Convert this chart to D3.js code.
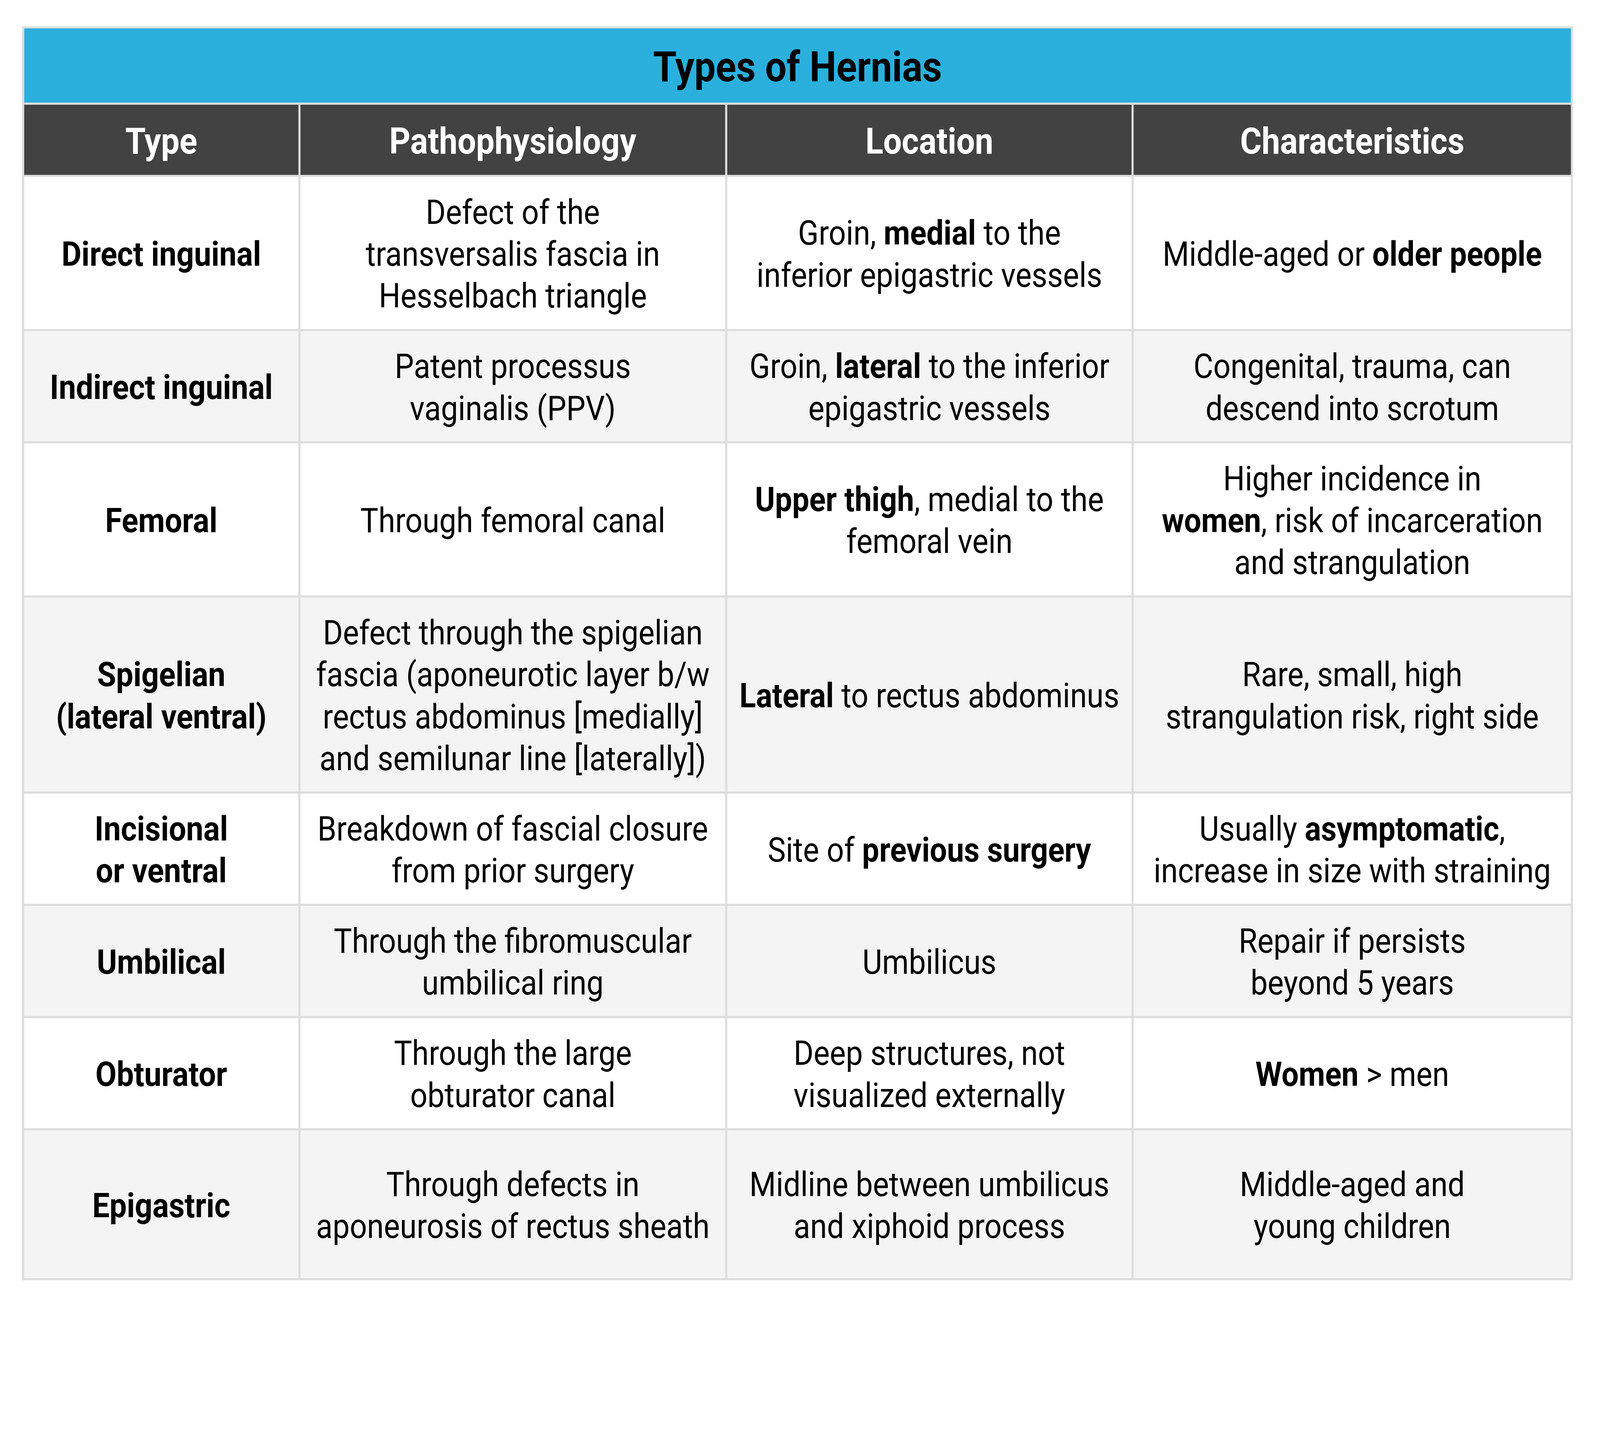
<!DOCTYPE html>
<html>
<head>
<meta charset="utf-8">
<script src="https://cdn.jsdelivr.net/npm/d3@7/dist/d3.min.js"></script>
<style>
  html, body { margin: 0; padding: 0; background: #fff; overflow: hidden; }
  svg { display: block; }
</style>
</head>
<body>
<div class="canvas"></div>
<script>
// table content (\n = line break, **x** = bold)
const title = 'Types of Hernias';
const headers = ['Type', 'Pathophysiology', 'Location', 'Characteristics'];

const types = [
  'Direct inguinal',
  'Indirect inguinal',
  'Femoral',
  'Spigelian\n(lateral ventral)',
  'Incisional\nor ventral',
  'Umbilical',
  'Obturator',
  'Epigastric'
];

const pathophysiology = [
  'Defect of the\ntransversalis fascia in\nHesselbach triangle',
  'Patent processus\nvaginalis (PPV)',
  'Through femoral canal',
  'Defect through the spigelian\nfascia (aponeurotic layer b/w\nrectus abdominus [medially]\nand semilunar line [laterally])',
  'Breakdown of fascial closure\nfrom prior surgery',
  'Through the fibromuscular\numbilical ring',
  'Through the large\nobturator canal',
  'Through defects in\naponeurosis of rectus sheath'
];

const locations = [
  'Groin, **medial** to the\ninferior epigastric vessels',
  'Groin, **lateral** to the inferior\nepigastric vessels',
  '**Upper thigh**, medial to the\nfemoral vein',
  '**Lateral** to rectus abdominus',
  'Site of **previous surgery**',
  'Umbilicus',
  'Deep structures, not\nvisualized externally',
  'Midline between umbilicus\nand xiphoid process'
];

const characteristics = [
  'Middle-aged or **older people**',
  'Congenital, trauma, can\ndescend into scrotum',
  'Higher incidence in\n**women**, risk of incarceration\nand strangulation',
  'Rare, small, high\nstrangulation risk, right side',
  'Usually **asymptomatic**,\nincrease in size with straining',
  'Repair if persists\nbeyond 5 years',
  '**Women** > men',
  'Middle-aged and\nyoung children'
];

// layout
const dims = {width: 4563, height: 3721};
const colEdges = [66, 854, 2071, 3230, 4483];
const titleTop = 78, titleBottom = 295.5, headBottom = 501.5, tableBottom = 3647;
const lineH = 119.5, pad = 40.5;
const fs = {title: 120, head: 104, body: 97};
const grid = '#dddddd';

// viewBox so the whole drawing fits whatever the css viewport is, pinned to the top
const svg = d3.select('.canvas')
  .append('svg')
    .attr('viewBox', `0 0 ${dims.width} ${dims.height}`)
    .attr('preserveAspectRatio', 'xMidYMin meet')
    .style('width', '100vw')
    .style('height', '100vh')
    .style('font-family', 'Roboto');

// Roboto stands in for Roboto Condensed: squeeze it horizontally
const measure = (str, size, weight) => {
  const t = svg.append('text')
    .attr('font-size', size).attr('font-weight', weight).text(str);
  const w = t.node().getComputedTextLength();
  t.remove();
  return w;
};
const squeezeReg = 837 / measure('descend into scrotum', fs.body, 400);
const squeezeBold = 569 / measure('Direct inguinal', fs.body, 700);

const rows = types.map((t, i) => [
  '**' + t.split('\n').join('**\n**') + '**',
  pathophysiology[i], locations[i], characteristics[i]
]);

const rowLines = rows.map(r => d3.max(r, c => c.split('\n').length));
const rowHeights = rowLines.map(n => n * lineH + 2 * pad);
rowHeights[rowHeights.length - 1] = tableBottom - headBottom - d3.sum(rowHeights.slice(0, -1));
const rowEdges = [headBottom, ...d3.cumsum(rowHeights).map(v => v + headBottom)];

const x = i => colEdges[i];
const xMid = i => (colEdges[i] + colEdges[i + 1]) / 2;

// backgrounds
svg.append('rect')
  .attr('x', x(0)).attr('y', titleTop)
  .attr('width', x(4) - x(0)).attr('height', titleBottom - titleTop)
  .attr('fill', '#2bb0dd');

svg.append('rect')
  .attr('x', x(0)).attr('y', titleBottom)
  .attr('width', x(4) - x(0)).attr('height', headBottom - titleBottom)
  .attr('fill', '#424242');

svg.selectAll('rect.row')
  .data(rows)
  .enter().append('rect')
    .attr('class', 'row')
    .attr('x', x(0))
    .attr('y', (d, i) => rowEdges[i])
    .attr('width', x(4) - x(0))
    .attr('height', (d, i) => rowHeights[i])
    .attr('fill', (d, i) => i % 2 ? '#f4f4f4' : '#ffffff');

// grid lines
const gridG = svg.append('g')
  .attr('stroke', grid)
  .attr('stroke-width', 6);

gridG.selectAll('line.h')
  .data([titleBottom, ...rowEdges.slice(0, -1)])
  .enter().append('line')
    .attr('x1', x(0)).attr('x2', x(4))
    .attr('y1', d => d).attr('y2', d => d);

gridG.selectAll('line.v')
  .data([1, 2, 3])
  .enter().append('line')
    .attr('x1', x).attr('x2', x)
    .attr('y1', titleBottom).attr('y2', tableBottom);

gridG.append('rect')
  .attr('x', x(0)).attr('y', titleTop)
  .attr('width', x(4) - x(0)).attr('height', tableBottom - titleTop)
  .attr('fill', 'none');

// text
const writeCell = (g, str, cx, cy, size, colour, forceBold) => {
  const lines = str.split('\n');
  lines.forEach((line, i) => {
    const parts = line.split('**');
    const allBold = forceBold || (parts.length === 3 && parts[0] === '' && parts[2] === '');
    const sq = allBold ? squeezeBold : squeezeReg;
    const by = cy + (i - (lines.length - 1) / 2) * lineH + 0.375 * size;
    const t = g.append('text')
      .attr('transform', `translate(${cx},${by}) scale(${sq},1)`)
      .attr('text-anchor', 'middle')
      .attr('font-size', size)
      .attr('fill', colour);
    parts.forEach((p, k) => {
      if (p === '') return;
      t.append('tspan')
        .attr('font-weight', forceBold || k % 2 ? 700 : 400)
        .text(p);
    });
  });
};

const textG = svg.append('g');

writeCell(textG, title, (x(0) + x(4)) / 2, (titleTop + titleBottom) / 2, fs.title, '#000', true);

headers.forEach((h, i) => {
  writeCell(textG, h, xMid(i), (titleBottom + headBottom) / 2, fs.head, '#fff', true);
});

rows.forEach((r, ri) => {
  const cy = (rowEdges[ri] + rowEdges[ri + 1]) / 2;
  r.forEach((c, ci) => writeCell(textG, c, xMid(ci), cy, fs.body, '#000', false));
});
</script>
</body>
</html>
